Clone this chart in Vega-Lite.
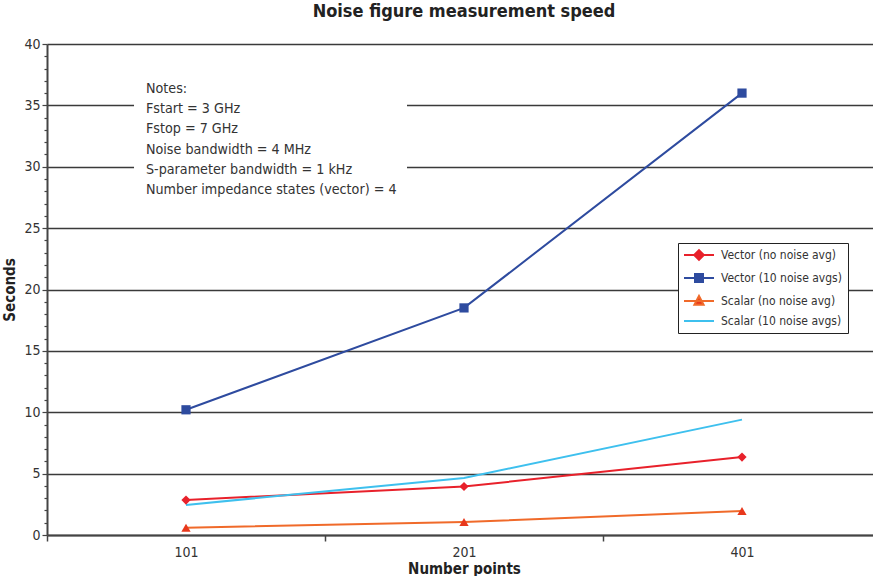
{
  "$schema": "https://vega.github.io/schema/vega-lite/v6.json",
  "width": 834,
  "height": 491,
  "autosize": {"type": "none"},
  "padding": {"left": 47, "top": 44, "right": 0, "bottom": 41},
  "background": "white",
  "title": {
    "text": "Noise figure measurement speed",
    "fontSize": 18,
    "fontWeight": "bold",
    "color": "#222222",
    "anchor": "middle",
    "offset": 16,
    "font": "Liberation Sans Narrow, DejaVu Sans Condensed, sans-serif"
  },
  "config": {
    "view": {"stroke": null},
    "font": "Liberation Sans Narrow, DejaVu Sans Condensed, sans-serif"
  },
  "datasets": {
    "series": [
      {"points": "101", "series": "Vector (no noise avg)", "seconds": 2.85},
      {"points": "201", "series": "Vector (no noise avg)", "seconds": 3.95},
      {"points": "401", "series": "Vector (no noise avg)", "seconds": 6.35},
      {"points": "101", "series": "Vector (10 noise avgs)", "seconds": 10.2},
      {"points": "201", "series": "Vector (10 noise avgs)", "seconds": 18.5},
      {"points": "401", "series": "Vector (10 noise avgs)", "seconds": 36.0},
      {"points": "101", "series": "Scalar (no noise avg)", "seconds": 0.6},
      {"points": "201", "series": "Scalar (no noise avg)", "seconds": 1.05},
      {"points": "401", "series": "Scalar (no noise avg)", "seconds": 1.95},
      {"points": "101", "series": "Scalar (10 noise avgs)", "seconds": 2.45},
      {"points": "201", "series": "Scalar (10 noise avgs)", "seconds": 4.65},
      {"points": "401", "series": "Scalar (10 noise avgs)", "seconds": 9.4}
    ]
  },
  "resolve": {"scale": {"x": "independent", "y": "independent"}, "axis": {"x": "independent", "y": "independent"}},
  "layer": [
    {
      "data": {"values": [{}]},
      "layer": [
        {
          "mark": {"type": "rect", "color": "white"},
          "encoding": {
            "x": {"datum": 0.313, "type": "quantitative", "scale": {"domain": [0, 3], "nice": false}, "axis": null},
            "x2": {"datum": 1.295},
            "y": {"datum": 37.2, "type": "quantitative", "scale": {"domain": [0, 40], "nice": false}, "axis": null},
            "y2": {"datum": 26.9}
          }
        },
        {
          "mark": {
            "type": "text",
            "text": ["Notes:", "Fstart = 3 GHz", "Fstop = 7 GHz", "Noise bandwidth = 4 MHz", "S-parameter bandwidth = 1 kHz", "Number impedance states (vector) = 4"],
            "align": "left",
            "baseline": "top",
            "fontSize": 14.2,
            "lineHeight": 20.2,
            "color": "#333333"
          },
          "encoding": {
            "x": {"datum": 0.356, "type": "quantitative"},
            "y": {"datum": 36.9, "type": "quantitative"}
          }
        }
      ]
    },
    {
      "data": {"name": "series"},
      "encoding": {
        "x": {
          "field": "points",
          "type": "nominal",
          "sort": ["101", "201", "401"],
          "scale": {"paddingInner": 0, "paddingOuter": 0},
          "axis": {
            "orient": "bottom",
            "title": "Number points",
            "labelAngle": 0,
            "tickBand": "extent",
            "grid": false,
            "domainColor": "#444444",
            "domainWidth": 2,
            "tickColor": "#444444",
            "tickWidth": 1.5,
            "tickSize": 6,
            "labelFontSize": 14,
            "labelColor": "#333333",
            "labelPadding": 4,
            "titleFontSize": 15,
            "titleFontWeight": "bold",
            "titleColor": "#222222",
            "titlePadding": 2
          }
        },
        "y": {
          "field": "seconds",
          "type": "quantitative",
          "scale": {"domain": [0, 40], "nice": false},
          "axis": {
            "orient": "left",
            "title": "Seconds",
            "values": [0,1,2,3,4,5,6,7,8,9,10,11,12,13,14,15,16,17,18,19,20,21,22,23,24,25,26,27,28,29,30,31,32,33,34,35,36,37,38,39,40],
            "labelExpr": "datum.value % 5 === 0 ? datum.label : ''",
            "labelOverlap": false,
            "grid": true,
            "gridColor": "#3a3a3a",
            "gridWidth": 1.3,
            "gridOpacity": {"condition": {"test": "datum.value % 5 === 0", "value": 1}, "value": 0},
            "tickSize": {"condition": {"test": "datum.value % 5 === 0", "value": 5}, "value": 3},
            "tickColor": "#444444",
            "tickWidth": 1.2,
            "domainColor": "#444444",
            "domainWidth": 2,
            "labelFontSize": 14,
            "labelColor": "#333333",
            "labelPadding": 2,
            "titleFontSize": 15,
            "titleFontWeight": "bold",
            "titleColor": "#222222",
            "titlePadding": 6
          }
        }
      },
      "layer": [
        {
          "mark": {"type": "line", "strokeWidth": 2},
          "encoding": {
            "color": {
              "field": "series",
              "type": "nominal",
              "scale": {
                "domain": ["Vector (no noise avg)", "Vector (10 noise avgs)", "Scalar (no noise avg)", "Scalar (10 noise avgs)"],
                "range": ["#e8212b", "#2e4b9f", "#f06a2a", "#3ec0ee"]
              },
              "legend": {
                "title": null,
                "orient": "none",
                "legendX": 631,
                "legendY": 199,
                "fillColor": "white",
                "strokeColor": "#222222",
                "padding": 6,
                "labelFontSize": 12,
                "labelColor": "#333333",
                "rowPadding": 6,
                "symbolSize": 64,
                "symbolOffset": 9,
                "labelOffset": 16,
                "encode": {
                  "symbols": {
                    "update": {
                      "shape": {"signal": "datum.label === 'Vector (no noise avg)' ? 'M-3.75,0H3.75M0,-1.2L1.2,0L0,1.2L-1.2,0Z' : datum.label === 'Vector (10 noise avgs)' ? 'M-3.75,0H3.75M-1,-1H1V1H-1Z' : datum.label === 'Scalar (no noise avg)' ? 'M-3.75,0H3.75M0,-1.25L1.15,0.95H-1.15Z' : 'M-3.75,0H3.75'"},
                      "fill": {"signal": "datum.label === 'Vector (no noise avg)' ? '#e8212b' : datum.label === 'Vector (10 noise avgs)' ? '#2e4b9f' : datum.label === 'Scalar (no noise avg)' ? '#e8381c' : 'transparent'"},
                      "strokeWidth": {"value": 2},
                      "opacity": {"value": 1}
                    }
                  }
                }
              }
            }
          }
        },
        {
          "transform": [{"filter": "datum.series !== 'Scalar (10 noise avgs)'"}],
          "mark": {"type": "point", "filled": true, "opacity": 1, "size": 85},
          "encoding": {
            "shape": {
              "field": "series",
              "type": "nominal",
              "scale": {
                "domain": ["Vector (no noise avg)", "Vector (10 noise avgs)", "Scalar (no noise avg)"],
                "range": ["diamond", "square", "triangle-up"]
              },
              "legend": null
            },
            "fill": {
              "field": "series",
              "type": "nominal",
              "scale": {
                "domain": ["Vector (no noise avg)", "Vector (10 noise avgs)", "Scalar (no noise avg)"],
                "range": ["#e8212b", "#2e4b9f", "#e8381c"]
              },
              "legend": null
            }
          }
        }
      ]
    }
  ]
}
